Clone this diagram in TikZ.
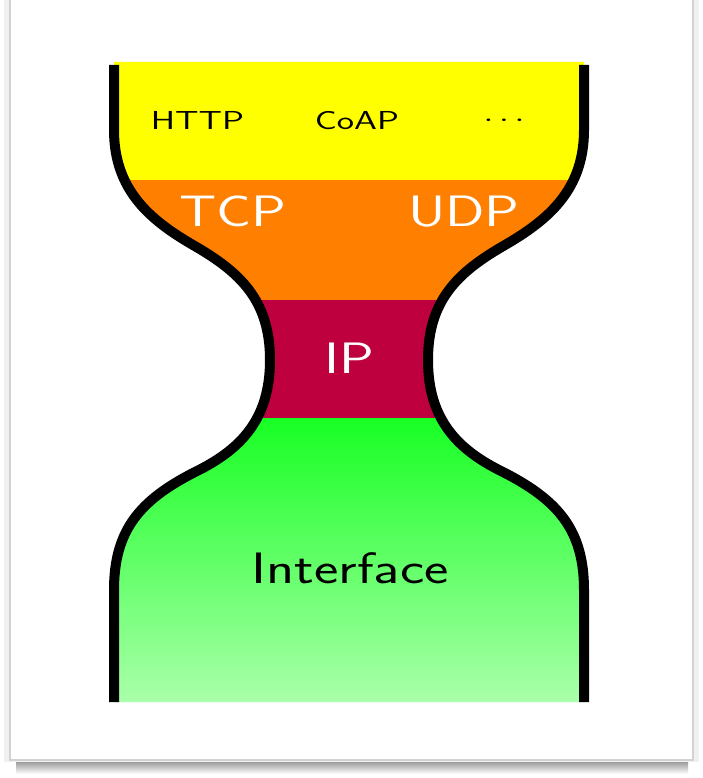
\documentclass[tikz,border=0pt]{standalone}
\usepackage{graphicx}
\definecolor{appyellow}{RGB}{255,255,0}
\definecolor{tporange}{RGB}{255,128,0}
\definecolor{ipred}{RGB}{191,0,63}
\definecolor{greentop}{RGB}{24,255,36}
\definecolor{greenbot}{RGB}{170,255,170}
\newcommand\smalltext[1]{\scalebox{1.41}[1]{#1}}
\newcommand\bigtext[1]{\scalebox{1.32}[1]{#1}}
\tikzset{
  smalllabel/.style={anchor=base, inner sep=0pt, font=\sffamily\fontsize{26}{30}\selectfont, text=black},
  biglabel/.style={anchor=base, inner sep=0pt, font=\sffamily\fontsize{44}{50}\selectfont},
  outline/.style={line width=10pt, line cap=butt, draw=black}
}
\begin{document}
\begin{tikzpicture}[x=1pt,y=-1pt]
\useasboundingbox (0,0) rectangle (703,778);
\fill[white] (0,0) rectangle (703,778);
% page frame with shadow
\shade[top color=gray!90, bottom color=white] (16,760) rectangle (688,774);
\fill[gray!12] (4,-10) rectangle (699,762);
\fill[white, draw=gray!35, line width=1.5pt] (10,-10) rectangle (693,760);
% hourglass
\def\hg{(114,62) -- (114,130) .. controls (114,190) and (150,220) .. (193,245)
  .. controls (240,272) and (270,300) .. (270,360)
  .. controls (270,420) and (240,450) .. (195,472)
  .. controls (140,500) and (114,530) .. (114,590) -- (114,702) -- (584,702) -- (584,590)
  .. controls (584,530) and (558,500) .. (503,472)
  .. controls (458,450) and (428,420) .. (428,360)
  .. controls (428,300) and (458,272) .. (505,245)
  .. controls (548,220) and (584,190) .. (584,130) -- (584,62) -- cycle}
\begin{scope}
  \clip \hg;
  \fill[appyellow] (100,60) rectangle (600,180);
  \fill[tporange] (100,180) rectangle (600,300);
  \fill[ipred] (100,300) rectangle (600,418);
  \shade[top color=greentop, bottom color=greenbot] (100,418) rectangle (600,702);
\end{scope}
% outlines
\draw[outline] (114,65) -- (114,130) .. controls (114,190) and (150,220) .. (193,245)
  .. controls (240,272) and (270,300) .. (270,360)
  .. controls (270,420) and (240,450) .. (195,472)
  .. controls (140,500) and (114,530) .. (114,590) -- (114,702);
\draw[outline] (584,65) -- (584,130) .. controls (584,190) and (548,220) .. (505,245)
  .. controls (458,272) and (428,300) .. (428,360)
  .. controls (428,420) and (458,450) .. (503,472)
  .. controls (558,500) and (584,530) .. (584,590) -- (584,702);
% labels
\node[smalllabel] (http) at (197.5,130) {\smalltext{HTTP}};
\node[smalllabel] (coap) at (357,130) {\smalltext{CoAP}};
\node[smalllabel] (more) at (504,127) {\smalltext{$\cdots$}};
\node[biglabel, text=white] (tcp) at (233,226) {\bigtext{TCP}};
\node[biglabel, text=white] (udp) at (464,226) {\bigtext{UDP}};
\node[biglabel, text=white] (ip) at (349,373) {\bigtext{IP}};
\node[biglabel, text=black] (iface) at (350,583) {\bigtext{Interface}};
\end{tikzpicture}
\end{document}
